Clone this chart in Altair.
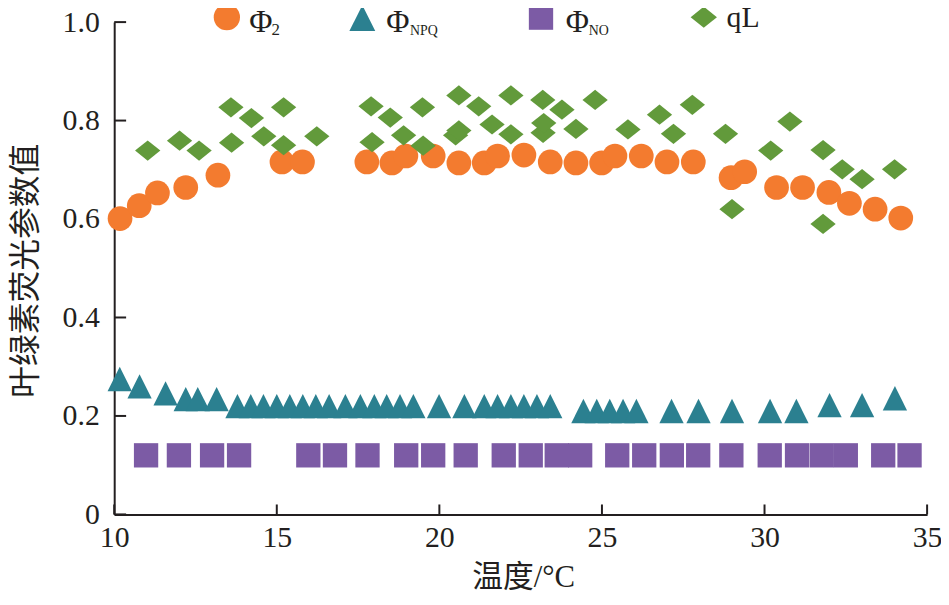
import altair as alt
import pandas as pd

# ---------------- data ----------------
phi2_t = [10.18, 10.77, 11.33, 12.20, 13.19, 15.16, 15.79, 17.77, 18.54, 18.97,
          19.81, 20.60, 21.38, 21.79, 22.60, 23.41, 24.20, 24.99, 25.40, 26.21,
          27.00, 27.81, 28.97, 29.39, 30.37, 31.17, 31.98, 32.61, 33.40, 34.19]
phi2_v = [0.601, 0.627, 0.653, 0.664, 0.689, 0.716, 0.716, 0.716, 0.714, 0.728,
          0.728, 0.714, 0.714, 0.728, 0.730, 0.716, 0.714, 0.714, 0.728, 0.728,
          0.716, 0.716, 0.684, 0.696, 0.664, 0.664, 0.654, 0.632, 0.620, 0.602]

npq_t = [10.17, 10.78, 11.58, 12.20, 12.57, 13.15, 13.79, 14.20, 14.59, 15.00,
         15.40, 15.80, 16.20, 16.61, 17.11, 17.57, 18.00, 18.38, 18.79, 19.20,
         19.99, 20.77, 21.38, 21.79, 22.20, 22.60, 23.00, 23.41, 24.43, 24.84,
         25.24, 25.65, 26.06, 27.14, 27.97, 29.00, 30.17, 30.98, 32.00, 33.00,
         34.01]
npq_v = [0.275, 0.260, 0.246, 0.234, 0.234, 0.234, 0.220, 0.220, 0.220, 0.220,
         0.220, 0.220, 0.220, 0.220, 0.220, 0.220, 0.220, 0.220, 0.220, 0.220,
         0.220, 0.220, 0.220, 0.220, 0.220, 0.220, 0.220, 0.220, 0.210, 0.210,
         0.210, 0.210, 0.210, 0.210, 0.210, 0.210, 0.210, 0.210, 0.222, 0.222,
         0.236]

no_t = [10.98, 11.99, 13.01, 13.84, 15.97, 16.79, 17.79, 18.98, 19.81, 20.81,
        21.98, 22.81, 23.61, 24.33, 25.47, 26.30, 27.15, 27.96, 28.98, 30.16,
        31.00, 31.76, 32.50, 33.65, 34.46]
no_v = [0.12, 0.12, 0.12, 0.12, 0.12, 0.12, 0.12, 0.12, 0.12, 0.12,
        0.12, 0.12, 0.12, 0.12, 0.12, 0.12, 0.12, 0.12, 0.12, 0.12,
        0.12, 0.12, 0.12, 0.12, 0.12]

ql_t = [11.03, 12.01, 12.61, 13.59, 13.61, 14.22, 14.60, 15.21, 15.21, 16.23,
        17.90, 17.93, 18.49, 18.90, 19.48, 19.50, 20.50, 20.60, 20.60, 21.21,
        21.62, 22.20, 22.20, 23.18, 23.19, 23.21, 23.77, 24.20, 24.79, 25.80,
        26.77, 27.20, 27.78, 28.80, 29.00, 30.19, 30.78, 31.80, 31.80, 32.39,
        33.00, 34.00]
ql_v = [0.739, 0.759, 0.739, 0.827, 0.755, 0.805, 0.768, 0.827, 0.750, 0.768,
        0.829, 0.756, 0.806, 0.770, 0.827, 0.749, 0.770, 0.780, 0.851, 0.829,
        0.792, 0.772, 0.851, 0.842, 0.775, 0.795, 0.822, 0.783, 0.842, 0.782,
        0.812, 0.773, 0.832, 0.773, 0.620, 0.739, 0.798, 0.740, 0.590, 0.701,
        0.681, 0.701]

x_ticks = [10, 15, 20, 25, 30, 35]
y_ticks = [0, 0.2, 0.4, 0.6, 0.8, 1.0]

legend_main = ["Φ", "Φ", "Φ", "qL"]
legend_sub = ["2", "NPQ", "NO", ""]

x_title = "温度/°C"
y_title = "叶绿素荧光参数值"

# ---------------- styling ----------------
W, H = 819, 496
SERIF = "Liberation Serif, Noto Sans CJK SC"
INK = "#231f20"

C_PHI2 = "#f37b2f"
C_NPQ = "#2b8090"
C_NO = "#7c5ba5"
C_QL = "#629a3b"

TRI = "M0,-1L1,1L-1,1Z"
DIA = "M-1,0L0,-0.8L1,0L0,0.8Z"

xscale = alt.Scale(domain=[10, 35], nice=False, zero=False)
yscale = alt.Scale(domain=[0, 1], nice=False, zero=False)

xaxis = alt.Axis(values=x_ticks, format="d", title=x_title, ticks=False, tickSize=0,
                 grid=False, domainColor=INK, domainWidth=2, labelFont=SERIF,
                 labelFontSize=30, labelColor=INK, labelPadding=8, labelFlush=False,
                 labelOverlap=False, titleFont=SERIF, titleFontSize=31,
                 titleFontWeight="normal", titleColor=INK, titleX=412, titleY=64,
                 titleBaseline="middle", titleAlign="center")
yaxis = alt.Axis(values=y_ticks,
                 labelExpr="datum.value == 0 ? '0' : format(datum.value, '.1f')",
                 title=y_title, ticks=False, tickSize=0, grid=False, domainColor=INK,
                 domainWidth=2, labelFont=SERIF, labelFontSize=30, labelColor=INK,
                 labelPadding=15, labelFlush=False, labelOverlap=False,
                 labelBaseline="middle", titleFont=SERIF, titleFontSize=32,
                 titleFontWeight="normal", titleColor=INK, titleX=-89, titleY=250,
                 titleAngle=270, titleBaseline="middle", titleAlign="center")


def X():
    return alt.X("t:Q", scale=xscale, axis=xaxis)


def Y():
    return alt.Y("v:Q", scale=yscale, axis=yaxis)


def series(ts, vs, shape, color, size):
    df = pd.DataFrame({"t": ts, "v": vs})
    return alt.Chart(df).mark_point(shape=shape, filled=True, color=color,
                                    size=size, opacity=1, strokeWidth=0).encode(x=X(), y=Y())


ytick_layer = alt.Chart(pd.DataFrame({"v": y_ticks})).mark_rule(
    color=INK, strokeWidth=2).encode(y=Y(), x=alt.value(0), x2=alt.value(12))
xtick_layer = alt.Chart(pd.DataFrame({"t": x_ticks})).mark_rule(
    color=INK, strokeWidth=2).encode(x=X(), y=alt.value(H), y2=alt.value(H - 10))

layers = [
    ytick_layer,
    xtick_layer,
    series(no_t, no_v, "square", C_NO, 600),
    series(npq_t, npq_v, TRI, C_NPQ, 600),
    series(phi2_t, phi2_v, "circle", C_PHI2, 620),
    series(ql_t, ql_v, DIA, C_QL, 650),
]

# ---------------- hand-built legend ----------------
leg_shapes = ["circle", TRI, "square", DIA]
leg_colors = [C_PHI2, C_NPQ, C_NO, C_QL]
leg_sizes = [700, 680, 600, 700]
leg_sym_x = [113.5, 250, 430, 594]
leg_sym_y = [-5, -4, -4.5, -5]
leg_main_x = [136, 274, 455, 617]
leg_sub_x = [158.5, 298, 478, 0]

one = pd.DataFrame({"k": [0]})
for i in range(4):
    layers.append(alt.Chart(one).mark_point(
        shape=leg_shapes[i], filled=True, color=leg_colors[i], size=leg_sizes[i],
        opacity=1, strokeWidth=0).encode(x=alt.value(leg_sym_x[i]), y=alt.value(leg_sym_y[i])))
    if legend_sub[i]:
        layers.append(alt.Chart(one).mark_text(
            text=legend_main[i], font=SERIF, fontSize=32, color=INK, align="left",
            baseline="middle").encode(x=alt.value(leg_main_x[i]), y=alt.value(0)))
        layers.append(alt.Chart(one).mark_text(
            text=legend_sub[i], font=SERIF, fontSize=17 if i == 0 else 14, color=INK,
            align="left", baseline="alphabetic").encode(x=alt.value(leg_sub_x[i]), y=alt.value(13.3)))
    else:
        layers.append(alt.Chart(one).mark_text(
            text=legend_main[i], font=SERIF, fontSize=30, color=INK, align="left",
            baseline="alphabetic").encode(x=alt.value(leg_main_x[i]), y=alt.value(5)))

chart = alt.layer(*layers).properties(
    width=W, height=H,
    autosize=alt.AutoSizeParams(type="none"),
    padding={"left": 107, "top": 12, "right": 14, "bottom": 80},
).configure_view(stroke=None)

chart.save("out.html", embed_options={"renderer": "svg", "actions": False})
